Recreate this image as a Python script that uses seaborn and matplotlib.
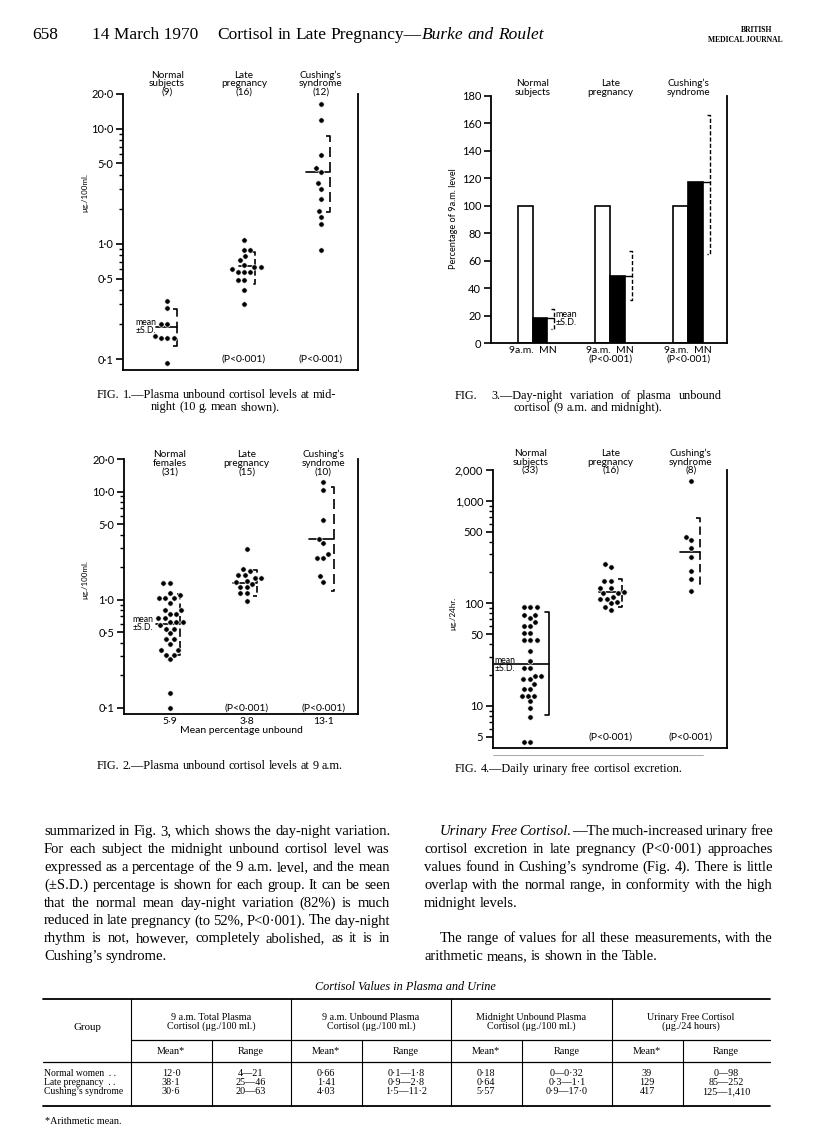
import numpy as np
import pandas as pd
import matplotlib
matplotlib.use('Agg')
import matplotlib.pyplot as plt
import seaborn as sns
from matplotlib.ticker import FixedLocator, FixedFormatter, NullFormatter
from matplotlib.transforms import blended_transform_factory
from matplotlib.lines import Line2D

# ---------------- data ----------------
groups = ['Normal', 'Late pregnancy', 'Cushing’s syndrome']

# Fig. 1 - plasma unbound cortisol at midnight (ug/100 ml, log scale)
fig1_heads = ['Normal\nsubjects', 'Late\npregnancy', 'Cushing’s\nsyndrome']
fig1_n = [9, 16, 12]
fig1_normal = [0.32, 0.277, 0.20, 0.20, 0.16, 0.153, 0.153, 0.153, 0.092]
fig1_late = [1.09, 0.88, 0.88, 0.78, 0.72, 0.655, 0.63, 0.63, 0.60, 0.57, 0.57, 0.57,
             0.49, 0.49, 0.40, 0.30]
fig1_cushing = [16.5, 11.8, 5.9, 4.55, 4.18, 3.35, 3.01, 2.47, 1.91, 1.70, 1.49, 0.89]
fig1_mean = [0.19, 0.64, 4.2]
fig1_sd_hi = [0.27, 0.85, 8.6]
fig1_sd_lo = [0.13, 0.45, 1.89]

# Fig. 2 - plasma unbound cortisol at 9 a.m.
fig2_heads = ['Normal\nfemales', 'Late\npregnancy', 'Cushing’s\nsyndrome']
fig2_n = [31, 15, 10]
fig2_unbound = ['5·9', '3·8', '13·1']
fig2_normal = [1.43, 1.43, 1.16, 1.10, 1.03, 1.03, 1.03, 0.94, 0.80, 0.80, 0.74, 0.74,
               0.67, 0.67, 0.62, 0.62, 0.62, 0.58, 0.54, 0.54, 0.49, 0.43, 0.43, 0.39,
               0.34, 0.34, 0.31, 0.31, 0.28, 0.138, 0.10]
fig2_late = [2.92, 1.93, 1.83, 1.70, 1.70, 1.57, 1.57, 1.50, 1.45, 1.39, 1.31, 1.31,
             1.14, 1.14, 0.97]
fig2_cushing = [12.2, 10.3, 5.5, 3.66, 3.34, 2.64, 2.43, 2.43, 1.64, 1.47]
fig2_mean = [0.60, 1.42, 3.6]
fig2_sd_hi = [1.13, 1.87, 10.9]
fig2_sd_lo = [0.31, 1.07, 1.19]

# Fig. 3 - midnight level as % of 9 a.m. level
fig3_heads = ['Normal\nsubjects', 'Late\npregnancy', 'Cushing’s\nsyndrome']
fig3_times = ['9a.m.', 'MN']
fig3_am = [100, 100, 100]
fig3_mn = [18, 49, 117]
fig3_sd_hi = [25, 67, 166]
fig3_sd_lo = [10, 31, 65]
fig3_ticks = ['9a.m.  MN', '9a.m.  MN\n(P<0·001)', '9a.m.  MN\n(P<0·001)']

# Fig. 4 - daily urinary free cortisol (ug/24 hr)
fig4_heads = ['Normal\nsubjects', 'Late\npregnancy', 'Cushing’s\nsyndrome']
fig4_n = [33, 16, 8]
fig4_normal = [91.5, 91.5, 91.5, 77.6, 77.6, 72.0, 66.3, 60.1, 60.1, 51.8, 51.8,
               43.9, 43.9, 43.9, 34.5, 27.6, 23.6, 23.6, 19.6, 19.6, 18.1, 18.1, 16.3,
               14.5, 14.5, 12.6, 12.6, 12.6, 11.1, 9.6, 7.85, 4.4, 4.4]
fig4_late = [240, 224, 164, 164, 141, 141, 130, 125, 125, 116, 111, 111, 104, 100, 91.5, 86]
fig4_cushing = [1550, 444, 412, 349, 285, 207, 172, 133]
fig4_mean = [25.4, 128, 319]
fig4_sd_hi = [81.7, 171, 686]
fig4_sd_lo = [8.1, 93, 153]

# Table
tbl_rows = ['Normal women  . .', 'Late pregnancy  . .', 'Cushing’s syndrome']
tbl_heads = ['9 a.m. Total Plasma\nCortisol (μg./100 ml.)', '9 a.m. Unbound Plasma\nCortisol (μg./100 ml.)',
             'Midnight Unbound Plasma\nCortisol (μg./100 ml.)', 'Urinary Free Cortisol\n(μg./24 hours)']
total_mean = ['12·0', '38·1', '30·6']
total_range = ['4—21', '25—46', '20—63']
unb9_mean = ['0·66', '1·41', '4·03']
unb9_range = ['0·1—1·8', '0·9—2·8', '1·5—11·2']
mid_mean = ['0·18', '0·64', '5·57']
mid_range = ['0—0·32', '0·3—1·1', '0·9—17·0']
ufc_mean = ['39', '129', '417']
ufc_range = ['0—98', '85—252', '125—1,410']

# ---------------- page setup ----------------
sns.set_theme(style='ticks', rc={'axes.edgecolor': 'black', 'axes.linewidth': 1.3,
                                 'xtick.color': 'black', 'ytick.color': 'black',
                                 'text.color': 'black', 'axes.labelcolor': 'black'})
SANS = ['Lato', 'DejaVu Sans']
SERIF = ['Liberation Serif', 'DejaVu Serif']
plt.rcParams['font.family'] = SANS

W, H = 816, 1134
fig = plt.figure(figsize=(W / 100, H / 100), dpi=100)
fig.patch.set_facecolor('white')
renderer = fig.canvas.get_renderer()


def put(x, y, s, **kw):
    return fig.text(x / W, 1 - y / H, s, **kw)


def hline(x0, x1, y, lw=0.8, color='black'):
    fig.add_artist(Line2D([x0 / W, x1 / W], [1 - y / H] * 2, lw=lw, color=color))


def vline(x, y0, y1, lw=0.8, color='black'):
    fig.add_artist(Line2D([x / W] * 2, [1 - y0 / H, 1 - y1 / H], lw=lw, color=color))


def add_ax(l, t, r, b):
    return fig.add_axes([l / W, 1 - b / H, (r - l) / W, (b - t) / H])


def text_line(x0, x1, y, line, size=10.5, mode='justify', family=SERIF, weight='normal'):
    # words split on spaces, '|' joins pieces without a gap, '~' marks italic
    words = []
    for w in line.split(' '):
        segs = []
        for s in w.split('|'):
            st = 'italic' if s.startswith('~') else 'normal'
            segs.append(put(x0, y, s.lstrip('~'), fontsize=size, family=family,
                            style=st, weight=weight, va='baseline'))
        words.append(segs)
    widths = [[t.get_window_extent(renderer).width for t in segs] for segs in words]
    total = sum(sum(w) for w in widths)
    gap = size * 100 / 72 * 0.25
    if mode == 'justify' and len(words) > 1:
        gap = (x1 - x0 - total) / (len(words) - 1)
    x = x0
    if mode == 'center':
        x = x0 - (total + gap * (len(words) - 1)) / 2
    for segs, ws in zip(words, widths):
        for t, w in zip(segs, ws):
            t.set_x(x / W)
            x += w
        x += gap


def group_heads(ax, heads, yfrac):
    tr = blended_transform_factory(ax.transData, ax.transAxes)
    for i, s in enumerate(heads):
        ax.text(i, yfrac, s, transform=tr, ha='center', va='bottom', fontsize=7.2,
                linespacing=0.92, clip_on=False)


def log_axis(ax, ylim, major, labels, minor, xlim):
    ax.set_xlim(*xlim)
    ax.set_ylim(*ylim)
    ax.yaxis.set_major_locator(FixedLocator(major))
    ax.yaxis.set_major_formatter(FixedFormatter(labels))
    ax.yaxis.set_minor_locator(FixedLocator(minor))
    ax.yaxis.set_minor_formatter(NullFormatter())
    ax.set_xlabel('')
    ax.set_ylabel('')
    ax.spines['top'].set_visible(False)
    ax.tick_params(axis='x', length=0, labelsize=7.5, pad=2)
    ax.tick_params(axis='y', which='major', length=5, width=1.2, labelsize=8, pad=2)
    ax.tick_params(axis='y', which='minor', length=3, width=1.0)


def swarm_panel(ax, values, means, lo, hi, x0s, xbs, styles):
    df = pd.DataFrame({'group': np.repeat(groups, [len(v) for v in values]),
                       'value': np.concatenate(values)})
    ax.set_yscale('log')
    sns.swarmplot(data=df, x='group', y='value', order=groups, color='black', size=3.9,
                  linewidth=0.5, edgecolor='white', ax=ax)
    for i in range(len(groups)):
        ax.plot([i + x0s[i], i + xbs[i]], [means[i], means[i]], color='black', lw=1.2)
        ax.plot([i + xbs[i] - 0.05, i + xbs[i], i + xbs[i], i + xbs[i] - 0.05],
                [hi[i], hi[i], lo[i], lo[i]], color='black', lw=1.2, ls=styles[i])


log_minor = [0.2, 0.3, 0.4, 0.6, 0.7, 0.8, 0.9, 2, 3, 4, 6, 7, 8, 9]
log_major = [0.1, 0.5, 1, 5, 10, 20]
log_labels = ['0·1', '0·5', '1·0', '5·0', '10·0', '20·0']

# ---------------- Fig. 1 ----------------
ax1 = add_ax(123, 94, 358, 370)
swarm_panel(ax1, [fig1_normal, fig1_late, fig1_cushing], fig1_mean, fig1_sd_lo, fig1_sd_hi,
            [-0.14, -0.07, -0.187], [0.13, 0.148, 0.117],
            [(0, (7, 3)), (0, (4, 2)), (0, (6, 3))])
log_axis(ax1, (0.0803, 20), log_major, log_labels, log_minor, (-0.574, 2.483))
ax1.set_xticks([])
group_heads(ax1, [f'{h}\n({n})' for h, n in zip(fig1_heads, fig1_n)], 0.99)
ax1.text(-0.14, fig1_mean[0], 'mean\n±S.D.', ha='right', va='center', fontsize=6.3, linespacing=0.85)
for i in (1, 2):
    ax1.text(i, 0.1, '(P<0·001)', ha='center', va='center', fontsize=7.5)
put(85, 193, 'μg./100ml.', rotation=90, ha='center', va='center', fontsize=5.8)

# ---------------- Fig. 2 ----------------
ax2 = add_ax(124, 459, 358, 714)
swarm_panel(ax2, [fig2_normal, fig2_late, fig2_cushing], fig2_mean, fig2_sd_lo, fig2_sd_hi,
            [-0.174, -0.174, -0.183], [0.139, 0.13, 0.143],
            [(0, (5, 2.5)), (0, (4, 2)), (0, (6, 3))])
log_axis(ax2, (0.0874, 20), log_major, log_labels, log_minor, (-0.596, 2.45))
ax2.set_xticks(range(3))
ax2.set_xticklabels(fig2_unbound)
ax2.set_xlabel('Mean percentage unbound', fontsize=7.5, labelpad=0)
group_heads(ax2, [f'{h}\n({n})' for h, n in zip(fig2_heads, fig2_n)], 0.933)
ax2.text(-0.214, fig2_mean[0], 'mean\n±S.D.', ha='right', va='center', fontsize=6.3, linespacing=0.85)
for i in (1, 2):
    ax2.text(i, 0.1, '(P<0·001)', ha='center', va='center', fontsize=7.5)
put(85, 580, 'μg./100ml.', rotation=90, ha='center', va='center', fontsize=5.8)

# ---------------- Fig. 3 ----------------
ax3 = add_ax(491, 95.7, 727, 343)
df3 = pd.DataFrame({'group': groups * 2,
                    'time': [fig3_times[0]] * 3 + [fig3_times[1]] * 3,
                    'pct': fig3_am + fig3_mn})
sns.barplot(data=df3, x='group', y='pct', hue='time', order=groups, hue_order=fig3_times,
            palette={fig3_times[0]: 'white', fig3_times[1]: 'black'}, edgecolor='black',
            linewidth=1.2, width=0.384, gap=0, saturation=1, errorbar=None, legend=False, ax=ax3)
for i in range(3):
    xb = i + 0.282
    ax3.plot([xb - 0.04, xb, xb, xb - 0.04], [fig3_sd_hi[i], fig3_sd_hi[i], fig3_sd_lo[i], fig3_sd_lo[i]],
             color='black', lw=1.0, ls=(0, (3, 1.5)))
    ax3.plot([i + 0.192, xb], [fig3_mn[i], fig3_mn[i]], color='black', lw=1.0)
ax3.text(0.30, fig3_mn[0], 'mean\n±S.D.', ha='left', va='center', fontsize=6.5, linespacing=0.85)
ax3.set_xlim(-0.534, 2.5)
ax3.set_ylim(0, 180)
ax3.yaxis.set_major_locator(FixedLocator(range(0, 181, 20)))
ax3.set_xticks(range(3))
ax3.set_xticklabels(fig3_ticks, linespacing=1.0)
ax3.set_xlabel('')
ax3.set_ylabel('')
ax3.spines['top'].set_visible(False)
ax3.tick_params(axis='x', length=0, labelsize=7.5, pad=2)
ax3.tick_params(axis='y', length=5, width=1.2, labelsize=8, pad=2)
group_heads(ax3, fig3_heads, 0.995)
put(453, 219, 'Percentage of 9a.m. level', rotation=90, ha='center', va='center', fontsize=6.6)

# ---------------- Fig. 4 ----------------
ax4 = add_ax(493, 470, 727, 748)
swarm_panel(ax4, [fig4_normal, fig4_late, fig4_cushing], fig4_mean, fig4_sd_lo, fig4_sd_hi,
            [-0.454, -0.142, -0.142], [0.233, 0.1375, 0.117],
            ['-', (0, (4, 2)), (0, (5, 2.5))])
log_axis(ax4, (3.88, 2000), [5, 10, 50, 100, 500, 1000, 2000],
         ['5', '10', '50', '100', '500', '1,000', '2,000'],
         [6, 7, 8, 9, 20, 30, 40, 60, 70, 80, 90, 200, 300, 400, 600, 700, 800, 900],
         (-0.467, 2.45))
ax4.set_xticks([])
group_heads(ax4, [f'{h}\n({n})' for h, n in zip(fig4_heads, fig4_n)], 0.982)
ax4.text(-0.45, fig4_mean[0], 'mean\n±S.D.', ha='left', va='center', fontsize=6.3, linespacing=0.85)
for i in (1, 2):
    ax4.text(i, 5, '(P<0·001)', ha='center', va='center', fontsize=7.5)
put(453, 613, 'μg./24hr.', rotation=90, ha='center', va='center', fontsize=5.8)
hline(493, 703, 755, lw=0.6, color='0.6')

# ---------------- header ----------------
put(32, 39, '658', fontsize=12.5, family=SERIF, va='baseline')
put(92, 39, '14 March 1970', fontsize=12.5, family=SERIF, va='baseline')
text_line(217, None, 39, 'Cortisol in Late Pregnancy—|~Burke ~and ~Roulet', size=12.5, mode='left')
put(772, 32, 'BRITISH', fontsize=5.5, family=SERIF, weight='bold', ha='right', va='baseline')
put(783, 42, 'MEDICAL JOURNAL', fontsize=5.5, family=SERIF, weight='bold', ha='right', va='baseline')

# ---------------- captions ----------------
text_line(97, 336, 398, 'FIG. 1.—Plasma unbound cortisol levels at mid-', size=8.8)
text_line(215, None, 410, 'night (10 g. mean shown).', size=8.8, mode='center')
text_line(455, 722, 399, 'FIG.  3.—Day-night variation of plasma unbound', size=8.8)
text_line(588, None, 411, 'cortisol (9 a.m. and midnight).', size=8.8, mode='center')
text_line(97, None, 769, 'FIG. 2.—Plasma unbound cortisol levels at 9 a.m.', size=8.8, mode='left')
text_line(455, None, 772, 'FIG. 4.—Daily urinary free cortisol excretion.', size=8.8, mode='left')

# ---------------- body text ----------------
left_col = ['summarized in Fig. 3, which shows the day-night variation.',
            'For each subject the midnight unbound cortisol level was',
            'expressed as a percentage of the 9 a.m. level, and the mean',
            '(±S.D.) percentage is shown for each group. It can be seen',
            'that the normal mean day-night variation (82%) is much',
            'reduced in late pregnancy (to 52%, P<0·001). The day-night',
            'rhythm is not, however, completely abolished, as it is in',
            'Cushing’s syndrome.']
right_col = [(440, '~Urinary ~Free ~Cortisol.|—The much-increased urinary free', 'justify'),
             (424, 'cortisol excretion in late pregnancy (P<0·001) approaches', 'justify'),
             (424, 'values found in Cushing’s syndrome (Fig. 4). There is little', 'justify'),
             (424, 'overlap with the normal range, in conformity with the high', 'justify'),
             (424, 'midnight levels.', 'left'),
             None,
             (440, 'The range of values for all these measurements, with the', 'justify'),
             (424, 'arithmetic means, is shown in the Table.', 'left')]
for k, line in enumerate(left_col):
    text_line(44, 390, 835 + 17.9 * k, line, mode='left' if k == len(left_col) - 1 else 'justify')
for k, item in enumerate(right_col):
    if item is None:
        continue
    x0, line, mode = item
    text_line(x0, 773, 835 + 17.9 * k, line, mode=mode)

# ---------------- table ----------------
put(405, 987, 'Cortisol Values in Plasma and Urine', fontsize=8.8, family=SERIF, style='italic',
    ha='center', va='center')
hline(43, 770, 999, lw=1.3)
hline(131, 770, 1040, lw=0.9)
hline(43, 770, 1062, lw=0.9)
hline(43, 770, 1106, lw=1.3)
for x in (131, 291, 451, 612):
    vline(x, 999, 1106)
for x in (212, 362, 522, 683):
    vline(x, 1040, 1106)
put(87, 1027, 'Group', fontsize=7.8, family=SERIF, ha='center', va='center')
block_centres = [211, 371, 531, 691]
for xc, h in zip(block_centres, tbl_heads):
    put(xc, 1022, h, fontsize=7.3, family=SERIF, ha='center', va='center', linespacing=0.95)
mean_x = [171, 326, 486, 647]
range_x = [251, 406, 567, 726]
for xm, xr in zip(mean_x, range_x):
    put(xm, 1052, 'Mean*', fontsize=7.3, family=SERIF, ha='center', va='center')
    put(xr, 1052, 'Range', fontsize=7.3, family=SERIF, ha='center', va='center')
cols = [total_mean, total_range, unb9_mean, unb9_range, mid_mean, mid_range, ufc_mean, ufc_range]
col_x = [171, 251, 326, 406, 486, 567, 647, 726]
for r, name in enumerate(tbl_rows):
    y = 1074 + 8.8 * r
    put(44, y, name, fontsize=6.9, family=SERIF, va='center')
    for xc, col in zip(col_x, cols):
        put(xc, y, col[r], fontsize=7.3, family=SERIF, ha='center', va='center')
put(45, 1121, '*Arithmetic mean.', fontsize=7.3, family=SERIF, va='center')

fig.savefig('out.png', dpi=100)
